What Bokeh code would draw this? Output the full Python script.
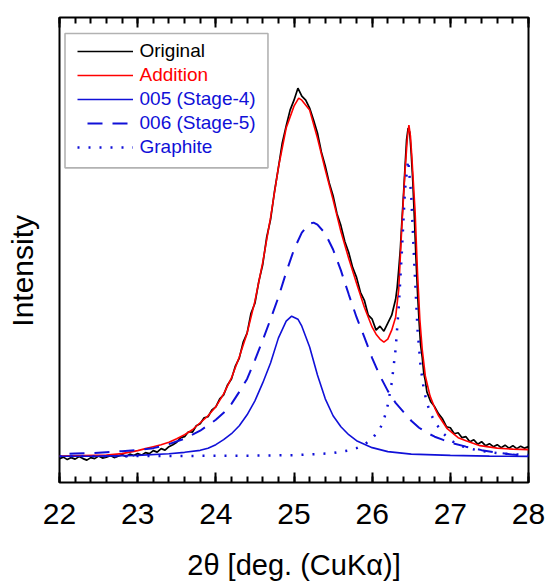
from bokeh.plotting import figure
from bokeh.models import (Range1d, LinearAxis, SingleIntervalTicker, FixedTicker, Legend,
                          LegendItem, BoxAnnotation)
from bokeh.embed import file_html
from bokeh.resources import INLINE

# ---------------- data (2theta in deg, intensity in a.u.) ----------------
orig_x = [22.00, 22.05, 22.10, 22.15, 22.20, 22.25, 22.30, 22.35, 22.40, 22.45,
          22.50, 22.55, 22.60, 22.65, 22.70, 22.75, 22.80, 22.85, 22.90, 22.95,
          23.00, 23.05, 23.10, 23.15, 23.20, 23.25, 23.30, 23.35, 23.40, 23.45,
          23.50, 23.55, 23.60, 23.65, 23.70, 23.75, 23.80, 23.85, 23.90, 23.95,
          24.00, 24.05, 24.10, 24.15, 24.20, 24.25, 24.30, 24.35, 24.40, 24.45,
          24.50, 24.55, 24.60, 24.65, 24.70, 24.75, 24.80, 24.85, 24.90, 24.95,
          25.00, 25.05, 25.10, 25.15, 25.20, 25.25, 25.30, 25.35, 25.40, 25.45,
          25.50, 25.55, 25.60, 25.65, 25.70, 25.75, 25.80, 25.85, 25.90, 25.95,
          26.00, 26.05, 26.10, 26.15, 26.20, 26.25, 26.30,
          26.32, 26.34, 26.36, 26.38, 26.40, 26.42, 26.44, 26.46, 26.48, 26.50,
          26.52, 26.54, 26.56, 26.58, 26.60, 26.62, 26.64, 26.66, 26.68, 26.70,
          26.75, 26.80, 26.85, 26.90, 26.95, 27.00, 27.05, 27.10, 27.15, 27.20,
          27.25, 27.30, 27.35, 27.40, 27.45, 27.50, 27.55, 27.60, 27.65, 27.70,
          27.75, 27.80, 27.85, 27.90, 27.95, 28.00]
orig_y = [24, 25.5, 23, 25, 23.5, 26, 24, 22.5, 25, 24,
          26.5, 24.5, 25.5, 27, 25, 26.5, 28, 26, 28.5, 27,
          29, 27.5, 30, 29, 32, 30.5, 34, 32.5, 36, 38,
          40.5, 45, 46, 51, 50.5, 57, 59, 65, 66, 73,
          76, 84, 88, 98, 104, 117, 125, 141, 150, 170,
          180, 202, 219, 246, 264, 292, 316, 341, 358, 374,
          384, 396, 388, 384, 376, 364, 351, 332, 318, 301,
          288, 270, 258, 242, 231, 216, 206, 191, 183, 168,
          164, 153, 157, 152, 160, 168, 184,
          196, 214, 234, 262, 288, 316, 344, 356, 352, 330,
          302, 266, 226, 191, 162, 138, 126, 110, 102, 91,
          81, 76, 69, 64, 56, 55, 49, 50, 45, 46,
          41, 43, 38.5, 41, 37, 39, 36, 38, 35, 37.5,
          34.5, 37, 34, 36.5, 34.5, 36]

add_x = [22.0, 22.3, 22.6, 22.8, 23.0, 23.1, 23.2, 23.3, 23.4, 23.5,
         23.6, 23.7, 23.8, 23.9, 24.0, 24.1, 24.2, 24.3, 24.4, 24.5,
         24.6, 24.7, 24.8, 24.9, 25.0, 25.06, 25.1, 25.2, 25.3, 25.4,
         25.5, 25.6, 25.7, 25.8, 25.9, 26.0, 26.05, 26.1, 26.15, 26.2,
         26.25, 26.3, 26.34, 26.38, 26.42, 26.45, 26.47, 26.49, 26.51, 26.55,
         26.58, 26.61, 26.64, 26.68, 26.74, 26.8, 26.85, 26.96, 27.1, 27.2,
         27.38, 27.6, 27.8, 28.0]
add_y = [26.5, 27, 27.5, 29, 32, 34, 36, 38, 40.5, 44,
         48, 53, 60, 67, 76, 89, 105, 126, 150, 182,
         221, 266, 316, 356, 378, 386, 384, 374, 346, 314,
         284, 252, 225, 200, 176, 156, 149, 144, 141, 144,
         153, 166, 194, 258, 312, 346, 359, 348, 324, 271,
         211, 164, 134, 107, 87, 75, 67, 54, 45, 42,
         37, 34.5, 33.5, 33]

s4_x = [22.0, 22.5, 23.0, 23.4, 23.6, 23.8, 23.9, 24.0, 24.1, 24.2,
        24.3, 24.4, 24.5, 24.6, 24.7, 24.8, 24.9, 24.97, 25.05, 25.1,
        25.2, 25.3, 25.4, 25.5, 25.6, 25.7, 25.8, 26.0, 26.2, 26.5,
        27.0, 27.5, 28.0]
s4_y = [26.3, 26.5, 27.2, 28.8, 30.3, 32.3, 34.5, 38, 43, 49,
        57, 68, 82, 100, 120, 145, 162, 167, 164, 157,
        136, 108, 84, 67, 56, 48, 42, 35, 31, 28.5,
        27.2, 26.5, 26.2]

s5_x = [22.0, 22.2, 22.4, 22.6, 22.8, 23.0, 23.2, 23.4, 23.6, 23.8,
        24.0, 24.1, 24.2, 24.3, 24.4, 24.5, 24.6, 24.7, 24.8, 24.9,
        25.0, 25.1, 25.2, 25.25, 25.3, 25.4, 25.5, 25.6, 25.7, 25.8,
        25.9, 26.0, 26.1, 26.2, 26.3, 26.4, 26.5, 26.6, 26.7, 26.8,
        26.9, 27.0, 27.2, 27.4, 27.6, 27.8, 28.0]
s5_y = [28.5, 29, 29.5, 30.5, 31.5, 32.5, 34.5, 38.5, 44, 52,
        63, 70, 79, 91, 104, 123, 143, 164, 186, 211,
        234, 251, 260, 261, 259, 250, 234, 213, 189, 166,
        146, 125, 107, 92, 80, 71, 62, 55, 50, 46,
        43, 40, 36, 32.5, 30, 28, 26.8]

gr_x = [22.0, 23.0, 24.0, 24.5, 25.0, 25.3, 25.5, 25.7, 25.8, 25.9,
        26.0, 26.1, 26.15, 26.2, 26.25, 26.3, 26.34, 26.38, 26.42, 26.46,
        26.5, 26.54, 26.58, 26.62, 26.66, 26.7, 26.75, 26.8, 26.9, 27.0,
        27.1, 27.2, 27.4, 27.6, 27.8, 28.0]
gr_y = [26.3, 26.5, 26.8, 27.0, 27.5, 28.6, 29.6, 32.2, 34.5, 38,
        44, 54, 63, 78, 100, 134, 176, 232, 294, 324,
        288, 218, 154, 116, 94, 80, 69, 61, 50, 42.5,
        38, 35, 31.5, 29.6, 28.3, 27.5]

series_names = ["Original", "Addition", "005 (Stage-4)", "006 (Stage-5)", "Graphite"]
x_ticks_interval = 1
x_title = "2\u03b8 [deg. (CuK\u03b1)]"
y_title = "Intensity"

# ---------------- styling ----------------
FONT = "Liberation Sans"
BLUE = "#1010d8"
RED = "#ff0000"

p = figure(width=547, height=583, x_range=Range1d(22, 28), y_range=Range1d(0, 467),
           output_backend="svg", toolbar_location=None,
           x_axis_location=None, y_axis_location=None,
           min_border_left=59, min_border_right=19, min_border_top=17, min_border_bottom=99)
p.background_fill_color = "white"
p.border_fill_color = "white"
p.outline_line_color = "black"
p.outline_line_width = 2
p.grid.visible = False

ticker = SingleIntervalTicker(interval=x_ticks_interval, num_minor_ticks=5)
xb = LinearAxis(ticker=ticker, axis_line_color=None,
                major_tick_in=10, major_tick_out=0, minor_tick_in=6, minor_tick_out=0,
                major_tick_line_width=2, minor_tick_line_width=2,
                major_label_text_font=FONT, major_label_text_font_size="30px",
                major_label_text_color="black", major_label_standoff=21,
                axis_label=x_title, axis_label_text_font=FONT,
                axis_label_text_font_size="29px", axis_label_text_font_style="normal",
                axis_label_text_color="black", axis_label_standoff=22)
p.add_layout(xb, "below")
xt = LinearAxis(ticker=ticker, axis_line_color=None,
                major_tick_in=10, major_tick_out=0, minor_tick_in=6, minor_tick_out=0,
                major_tick_line_width=2, minor_tick_line_width=2,
                major_label_text_font_size="1px", major_label_text_color=None,
                major_label_standoff=0)
p.add_layout(xt, "above")

# left axis: no ticks, only the title (trailing no-break spaces move it a little down)
yl = LinearAxis(ticker=FixedTicker(ticks=[]), axis_line_color=None,
                major_tick_in=0, major_tick_out=0, minor_tick_in=0, minor_tick_out=0,
                major_label_standoff=0, major_label_text_font_size="1px",
                major_label_text_color=None,
                axis_label=y_title + "\u00a0" * 5, axis_label_text_font=FONT,
                axis_label_text_font_size="30px", axis_label_text_font_style="normal",
                axis_label_text_color="black", axis_label_standoff=21)
p.add_layout(yl, "left")

r_orig = p.line(orig_x, orig_y, line_color="black", line_width=1.7)
r_add = p.line(add_x, add_y, line_color=RED, line_width=1.6)
r_s4 = p.line(s4_x, s4_y, line_color=BLUE, line_width=1.6)
r_s5 = p.line(s5_x, s5_y, line_color=BLUE, line_width=2, line_dash="15 10", line_dash_offset=15)
r_gr = p.line(gr_x, gr_y, line_color=BLUE, line_width=2.5, line_dash="2 9")

# legend frame
box = BoxAnnotation(left=22.0704, right=24.667, top=451, bottom=316,
                    fill_color="white", fill_alpha=1.0, line_color="black", line_width=1.6)
p.add_layout(box)

common = dict(border_line_color=None, background_fill_alpha=0, padding=0, spacing=0,
              glyph_width=56, glyph_height=24, label_height=24, label_standoff=7,
              label_text_font=FONT, label_text_font_size="19px", margin=0)
L1 = Legend(items=[LegendItem(label=series_names[0], renderers=[r_orig])],
            location=(17.5, 419), label_text_color="black", **common)
L2 = Legend(items=[LegendItem(label=series_names[1], renderers=[r_add])],
            location=(17.5, 395), label_text_color=RED, **common)
L3 = Legend(items=[LegendItem(label=series_names[2], renderers=[r_s4]),
                   LegendItem(label=series_names[3], renderers=[r_s5]),
                   LegendItem(label=series_names[4], renderers=[r_gr])],
            location=(17.5, 323), label_text_color=BLUE, **common)
for L in (L1, L2, L3):
    p.add_layout(L)

open("out.html", "w").write(file_html(p, INLINE, title="XRD"))
